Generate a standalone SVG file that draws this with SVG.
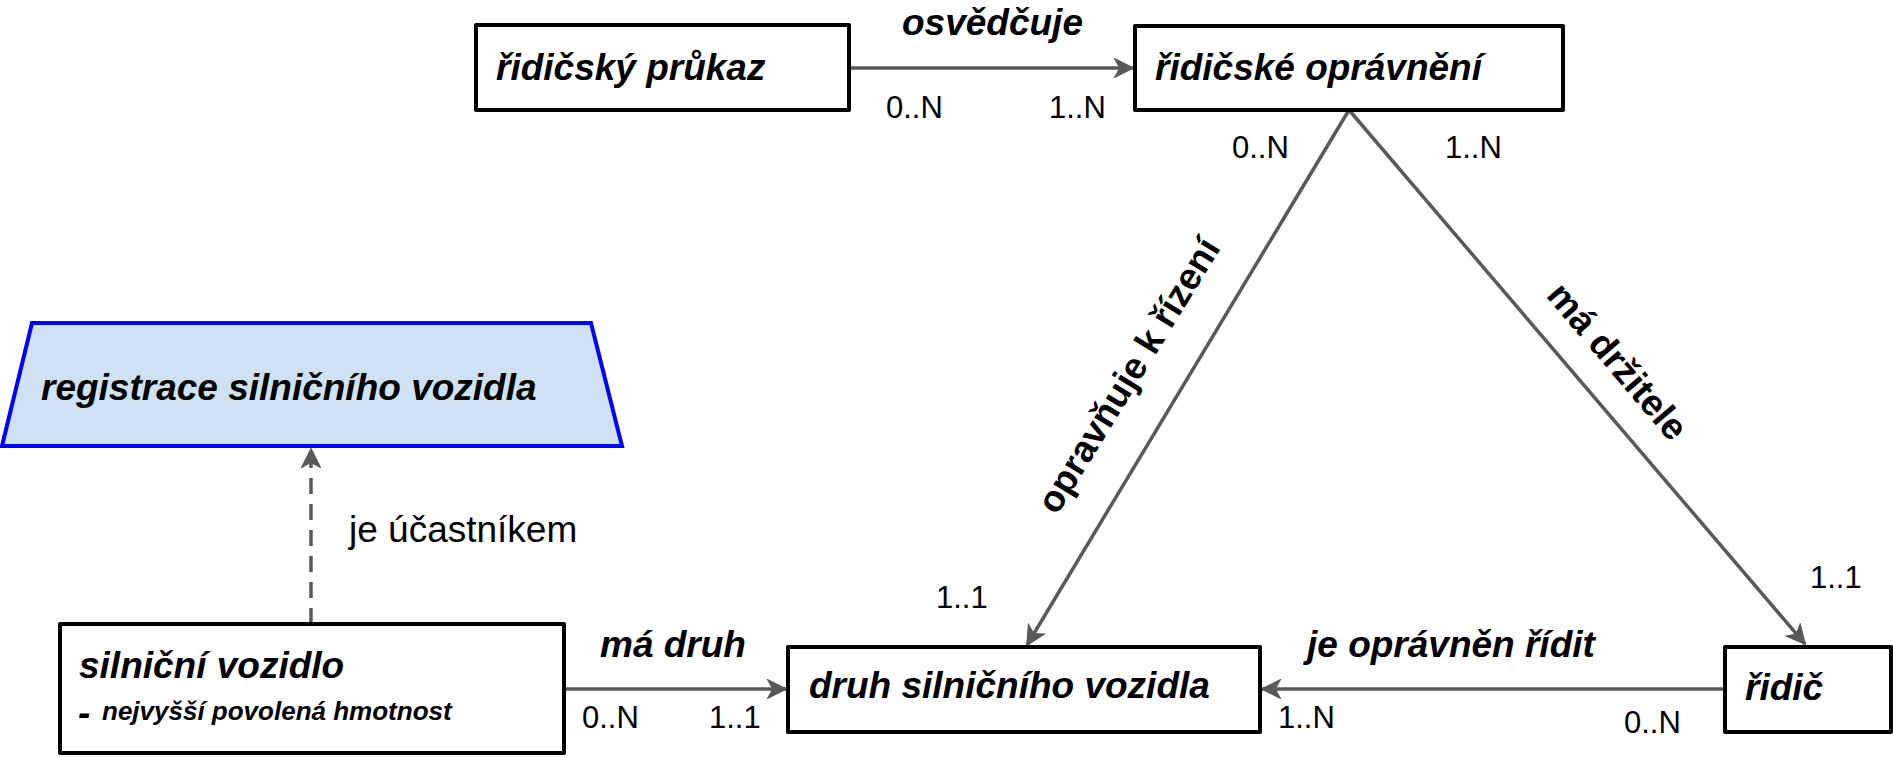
<svg xmlns="http://www.w3.org/2000/svg" width="1893" height="758" viewBox="0 0 1893 758">
<style>
.box{fill:#fff;stroke:#000;stroke-width:4;stroke-linejoin:round}
.t{font-family:"Liberation Sans",Arial,sans-serif;font-weight:bold;font-style:italic;font-size:37px;fill:#000}
.s{font-family:"Liberation Sans",Arial,sans-serif;font-weight:bold;font-style:italic;font-size:26px;fill:#000}
.rb{font-family:"Liberation Sans",Arial,sans-serif;font-weight:bold;font-size:37px;fill:#000}
.m{font-family:"Liberation Sans",Arial,sans-serif;font-size:31px;fill:#000}
.r{font-family:"Liberation Sans",Arial,sans-serif;font-size:37px;fill:#000}
.c{fill:none;stroke:#595959;stroke-width:3.5}
</style>
<defs>
<marker id="ah" viewBox="-20 -10 22 20" refX="0" refY="0" markerWidth="22" markerHeight="20" markerUnits="userSpaceOnUse" orient="auto">
<path d="M0,0 L-18,-9 L-13,0 L-18,9 Z" fill="#595959" stroke="#595959" stroke-width="1.5" stroke-linejoin="miter"/>
</marker>
</defs>
<g id="connectors">
<line class="c" x1="849" y1="68" x2="1133" y2="68" marker-end="url(#ah)"/>
<line class="c" x1="1349" y1="110" x2="1027" y2="645" marker-end="url(#ah)"/>
<line class="c" x1="1349" y1="110" x2="1805" y2="644" marker-end="url(#ah)"/>
<line class="c" x1="564" y1="689" x2="786" y2="689" marker-end="url(#ah)"/>
<line class="c" x1="1725" y1="689" x2="1262" y2="689" marker-end="url(#ah)"/>
<line class="c" x1="311" y1="624" x2="311" y2="449" stroke-dasharray="16,10" marker-end="url(#ah)"/>
<text class="t" x="902" y="35">osvědčuje</text>
<text class="m" x="886" y="118">0..N</text>
<text class="m" x="1049" y="118">1..N</text>
<text class="m" x="1232" y="158">0..N</text>
<text class="m" x="1445" y="158">1..N</text>
<text class="rb" transform="translate(1128,375) rotate(-58.5)" x="0" y="13" text-anchor="middle">opravňuje k řízení</text>
<text class="rb" transform="translate(1618,361) rotate(49.5)" x="0" y="13" text-anchor="middle">má držitele</text>
<text class="r" x="349" y="542">je účastníkem</text>
<text class="t" x="600" y="657">má druh</text>
<text class="m" x="582" y="728">0..N</text>
<text class="m" x="709" y="728">1..1</text>
<text class="m" x="936" y="608">1..1</text>
<text class="t" x="1307" y="657">je oprávněn řídit</text>
<text class="m" x="1278" y="728">1..N</text>
<text class="m" x="1624" y="733">0..N</text>
<text class="m" x="1810" y="588">1..1</text>
</g>
<g id="ridicsky-prukaz">
<rect class="box" x="476" y="25" width="373" height="85"/>
<text class="t" x="496" y="80">řidičský průkaz</text>
</g>
<g id="ridicske-opravneni">
<rect class="box" x="1135" y="26" width="428" height="84"/>
<text class="t" x="1155" y="80">řidičské oprávnění</text>
</g>
<g id="registrace">
<polygon points="32,323 591,323 622,446 2,446" fill="#cfe2f3" stroke="#0000ff" stroke-width="4"/>
<text class="t" x="41" y="400">registrace silničního vozidla</text>
</g>
<g id="silnicni-vozidlo">
<rect class="box" x="60" y="624" width="504" height="129"/>
<text class="t" x="79" y="678">silniční vozidlo</text>
<text class="t" x="78" y="725">-</text>
<text class="s" x="102" y="720">nejvyšší povolená hmotnost</text>
</g>
<g id="druh">
<rect class="box" x="788" y="647" width="472" height="85"/>
<text class="t" x="809" y="698">druh silničního vozidla</text>
</g>
<g id="ridic">
<rect class="box" x="1725" y="647" width="166" height="85"/>
<text class="t" x="1745" y="700">řidič</text>
</g>
</svg>
